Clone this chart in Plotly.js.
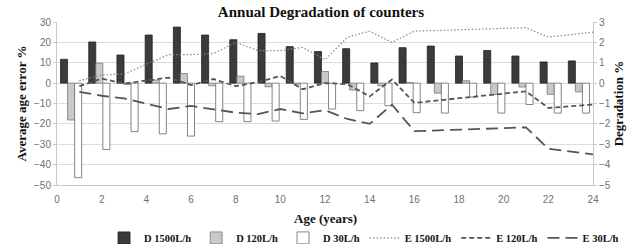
<!DOCTYPE html>
<html>
<head>
<meta charset="utf-8">
<script src="https://cdn.plot.ly/plotly-3.0.1.min.js"></script>
<style>html,body{margin:0;padding:0;background:#fff;}#chart{width:642px;height:244px;}</style>
</head>
<body>
<div id="chart"></div>
<script>
// Bar groups (19 meter groups)
const groups = ["G1","G2","G3","G4","G5","G6","G7","G8","G9","G10","G11","G12","G13","G14","G15","G16","G17","G18","G19"];
const d1500 = [11.7, 20.2, 13.8, 23.6, 27.5, 23.6, 21.3, 24.4, 17.9, 15.5, 16.9, 9.9, 17.4, 18.2, 13.3, 16.0, 13.3, 10.4, 10.9];
const d120  = [-18.1, 9.8, -0.7, 1.5, 4.7, -1.3, 3.4, -1.8, -0.5, 5.7, -3.4, -1.3, 0.3, -4.9, 1.2, -5.6, -1.9, -5.5, -4.3];
const d30   = [-46.4, -32.6, -23.8, -24.9, -26.0, -18.9, -18.9, -18.6, -17.8, -12.7, -13.5, -11.1, -14.5, -14.7, -6.8, -14.7, -10.5, -14.7, -14.7];

// Degradation lines (age in years)
const ages  = [1, 2, 3, 5, 6, 7, 8, 9, 10, 11, 12, 13, 14, 15, 16, 21, 22, 24];
const e1500 = [0.12, 0.4, 0.45, 1.4, 1.4, 1.45, 2.0, 1.6, 1.6, 1.75, 1.15, 2.25, 2.55, 2.0, 2.55, 2.72, 2.26, 2.5];
const e120  = [-0.15, 0.22, -0.02, 0.27, -0.1, 0.2, -0.15, 0.05, 0.35, -0.3, 0.0, -0.05, -0.65, 0.18, -0.97, -0.4, -1.22, -1.05];
const e30   = [-0.43, -0.62, -0.75, -1.27, -1.12, -1.3, -1.45, -1.52, -1.27, -1.48, -1.33, -1.76, -2.0, -1.06, -2.36, -2.17, -3.22, -3.5];

const xTicks = [0, 2, 4, 6, 8, 10, 12, 14, 16, 18, 20, 22, 24];
const xTitle = "Age (years)";

const serif = "Liberation Serif";
const sans = "Liberation Sans";

const traces = [
  {type:"bar", name:"D 1500L/h", x:groups, y:d1500, xaxis:"x", yaxis:"y",
   marker:{color:"#3b3b3b", line:{color:"#222", width:0.8}}},
  {type:"bar", name:"D 120L/h", x:groups, y:d120, xaxis:"x", yaxis:"y",
   marker:{color:"#c9c9c9", line:{color:"#777", width:0.8}}},
  {type:"bar", name:"D 30L/h", x:groups, y:d30, xaxis:"x", yaxis:"y",
   marker:{color:"#ffffff", line:{color:"#777", width:0.9}}},
  {type:"scatter", mode:"lines", name:"E 1500L/h", x:ages, y:e1500, xaxis:"x2", yaxis:"y2",
   line:{color:"#888", width:1.2, dash:"1.5px,2px"}},
  {type:"scatter", mode:"lines", name:"E 120L/h", x:ages, y:e120, xaxis:"x2", yaxis:"y2",
   line:{color:"#555", width:1.8, dash:"5px,3px"}},
  {type:"scatter", mode:"lines", name:"E 30L/h", x:ages, y:e30, xaxis:"x2", yaxis:"y2",
   line:{color:"#555", width:1.8, dash:"12px,6px"}}
];

const tickFont = {family:sans, size:10, color:"#707070"};
const axTitleFont = {family:serif, size:13, color:"#111", weight:"bold"};

const layout = {
  width:642, height:244,
  margin:{l:57, r:49, t:22, b:59},
  paper_bgcolor:"#fff", plot_bgcolor:"#fff",
  showlegend:true,
  barmode:"group", bargap:0.25, bargroupgap:0,
  title:{text:"Annual Degradation of counters", x:0.5, xanchor:"center", y:0.975, yanchor:"top",
         font:{family:serif, size:15, color:"#111", weight:"bold"}},
  xaxis:{type:"category", range:[-0.5,18.5], visible:false, automargin:false},
  xaxis2:{overlaying:"x", anchor:"y2", side:"bottom", range:[0,24], tickvals:xTicks, ticktext:xTicks.map(String),
         showgrid:false, zeroline:false, automargin:false,
         showline:true, linecolor:"#c8c8c8", ticks:"", ticklabelstandoff:5, tickfont:tickFont},
  yaxis:{range:[-50,30], dtick:10, showgrid:true, gridcolor:"#dcdcdc", zeroline:false, automargin:false,
         showline:true, linecolor:"#c8c8c8", ticks:"outside", ticklen:3, tickcolor:"#c8c8c8", tickfont:tickFont,
         title:{text:"Average age error %", font:axTitleFont, standoff:4}},
  yaxis2:{overlaying:"y", side:"right", anchor:"x2", range:[-5,3], dtick:1, showgrid:false, zeroline:false, automargin:false,
          showline:true, linecolor:"#c8c8c8", ticks:"outside", ticklen:3, tickcolor:"#c8c8c8", tickfont:tickFont,
          title:{text:"Degradation %", font:axTitleFont, standoff:4}},
  annotations:[{text:xTitle, xref:"paper", yref:"paper", x:0.5, y:-0.205, xanchor:"center", yanchor:"middle",
                showarrow:false, font:axTitleFont}],
  legend:{orientation:"h", xref:"container", x:0.972, xanchor:"right", yref:"container", y:0.025, yanchor:"middle",
          font:{family:serif, size:10.5, color:"#111", weight:"bold"}, itemwidth:30, tracegroupgap:0,
          bgcolor:"rgba(0,0,0,0)"}
};

Plotly.newPlot("chart", traces, layout, {displayModeBar:false, staticPlot:true});
</script>
</body>
</html>
